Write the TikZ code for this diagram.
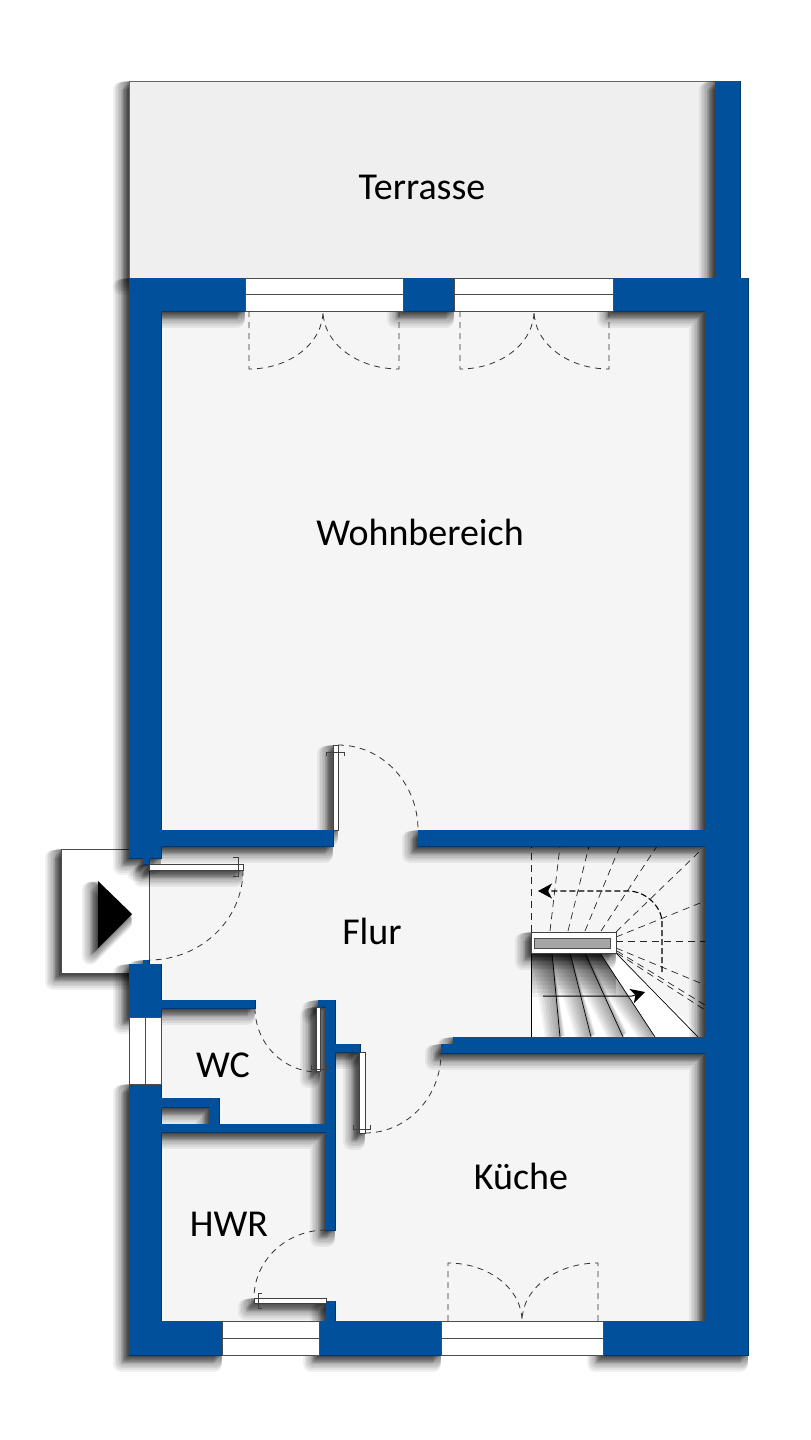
\documentclass[tikz,border=0pt]{standalone}
\usepackage{fontspec}
\setmainfont{Carlito}
\usetikzlibrary{arrows.meta}
\definecolor{wallblue}{RGB}{0,80,155}
\definecolor{walledge}{RGB}{0,52,105}
\definecolor{floorgray}{RGB}{245,245,245}
\definecolor{terracegray}{RGB}{239,239,239}
\tikzset{
	shadowlayer/.style={draw=black,fill=black,opacity=.06,line join=round},
	room/.style={font=\fontsize{38}{42}\selectfont,text=black,inner sep=0pt},
	pane/.style={fill=white,draw=black!70,line width=.7pt},
	leafbar/.style={fill=white,draw=black!75,line width=.7pt},
	hinge/.style={draw=black!75,line width=.7pt},
	swing/.style={draw=black!80,line width=.8pt,dash pattern=on 6pt off 5pt},
	tread/.style={draw=black,line width=.7pt},
	fanline/.style={draw=black!85,line width=.7pt,dash pattern=on 7pt off 5pt},
}
\newcommand{\dropshadow}[1]{\foreach \h in {.8,1.6,2.4,3.2,4,4.8,5.6,6.4,7.2,8}{\path[shadowlayer,line width={2*\h pt},shift={(-\h,1.1*\h)}] #1;}}
\newcommand{\wallrects}{(715,81) rectangle (740,278)
	(129,278) rectangle (245,311) (403,278) rectangle (454,311) (613,278) rectangle (748,311)
	(705,278) rectangle (748,1355)
	(129,278) rectangle (161,858) (143,858) rectangle (149,864)
	(161,830) rectangle (333,846) (418,830) rectangle (705,846)
	(143,960) rectangle (149,964) (129,964) rectangle (161,1017) (161,1000) rectangle (255,1008)
	(129,1084) rectangle (161,1355)
	(161,1098) rectangle (219,1107) (210,1098) rectangle (219,1132) (161,1124) rectangle (326,1132)
	(326,1000) rectangle (335,1230) (318,1000) rectangle (335,1007) (335,1044) rectangle (360,1052)
	(326,1301) rectangle (335,1321)
	(453,1037) rectangle (705,1053) (441,1044) rectangle (453,1053)
	(129,1321) rectangle (222,1355) (319,1321) rectangle (441,1355) (603,1321) rectangle (748,1355)}
\begin{document}
\begin{tikzpicture}[x=1pt,y=-1pt,>={Stealth[length=14pt,width=15pt,inset=4pt]},line join=miter]
	\useasboundingbox (0,0) rectangle (811,1440);
	\fill[white] (0,0) rectangle (811,1440);
	% outdoor and floor areas
	\dropshadow{(129,81) rectangle (715,278)}
	\filldraw[fill=terracegray,draw=black!60,line width=.6pt] (129,81) rectangle (715,278);
	\fill[floorgray] (161,311) rectangle (705,1321);
	\fill[floorgray] (149,846) rectangle (161,964);
	% entry box
	\dropshadow{(61,849) rectangle (149,973)}
	\filldraw[fill=white,draw=black!70,line width=.7pt] (61,849) rectangle (149,973);
	\dropshadow{(98,881) -- (132,914) -- (98,948) -- cycle}
	\fill[black] (98,881) -- (132,914) -- (98,948) -- cycle;
	% stairs, lower flight
	\fill[white] (531,953) -- (616,953) -- (703,1037) -- (531,1037) -- cycle;
	\begin{scope}
		\clip (531,953) -- (600,953) -- (655,1037) -- (531,1037) -- cycle;
		\foreach \w in {4,8,...,44}{\fill[black,opacity=.055] (531,953) rectangle (616,953+\w);}
		\foreach \a/\b in {552/560,570/591,585/623,600/655}{
			\foreach \w in {2,5,...,20}{\draw[black,opacity=.06,line width=\w pt] (\a-\w/2,953) -- (\b-\w/4,1037);}
		}
	\end{scope}
	\foreach \a/\b in {531/531,552/560,570/591,585/623,600/655,616/698}{\draw[tread] (\a,953) -- (\b,1037);}
	% stairs, upper flight
	\foreach \a/\c/\b/\d in {531/932/531/846,550/931/560/846,568/931/589/846,585/931/620/846,601/931/657/846,
		616/932/700/851,616/937/705/901,616/941/705/941,616/948/705/985,617/951/705/1005,617/953/705/1010}{
		\draw[fanline] (\a,\c) -- (\b,\d);
	}
	\dropshadow{(531,932) rectangle (616,953)}
	\filldraw[fill=white,draw=black!75,line width=.7pt] (531,932) rectangle (616,953);
	\filldraw[fill=black!35,draw=black!70,line width=.7pt] (534,938) rectangle (610,948);
	\draw[->,line width=1.1pt,dash pattern=on 6pt off 3pt] (662,972) -- (662,920) .. controls (660,905) and (645,891) .. (628,891) -- (538,891);
	\draw[->,line width=1pt] (543,996) -- (632,996) -- (645,992);
	% door leaves
	\dropshadow{(333,745) rectangle (338,830) (149,864) rectangle (243,870) (316,1007) rectangle (320,1071)
		(359,1052) rectangle (365,1133) (254,1298) rectangle (326,1303)}
	% walls
	\dropshadow{\wallrects}
	\draw[walledge,line width=1pt] \wallrects;
	\fill[wallblue] \wallrects;
	% windows
	\foreach \x/\X in {245/403,454/613}{
		\filldraw[pane] (\x,278) rectangle (\X,311);
		\draw[pane] (\x,294) -- (\X,294);
	}
	\foreach \x/\X in {222/319,441/603}{
		\filldraw[pane] (\x,1321) rectangle (\X,1355);
		\draw[pane] (\x,1338) -- (\X,1338);
	}
	\filldraw[pane] (129,1017) rectangle (161,1084);
	\draw[pane] (145,1017) -- (145,1084);
	% door leaves and hinges
	\filldraw[leafbar] (333,745) rectangle (338,830);
	\draw[hinge] (326,756) -- (326,752) -- (344,752) -- (344,756);
	\filldraw[leafbar] (149,864) rectangle (243,870);
	\draw[hinge] (233,857) -- (238,857) -- (238,876) -- (233,876);
	\filldraw[leafbar] (316,1007) rectangle (320,1071);
	\draw[hinge] (311,1065) -- (311,1069) -- (326,1069) -- (326,1065);
	\filldraw[leafbar] (359,1052) rectangle (365,1133);
	\draw[hinge] (353,1125) -- (353,1129) -- (370,1129) -- (370,1125);
	\filldraw[leafbar] (254,1298) rectangle (326,1303);
	\draw[hinge] (262,1293) -- (258,1293) -- (258,1308) -- (262,1308);
	% swing arcs
	\draw[swing] (249,311) -- (249,369) arc[start angle=90,end angle=0,x radius=74,y radius=58];
	\draw[swing] (399,311) -- (399,369) arc[start angle=90,end angle=180,x radius=76,y radius=58];
	\draw[swing] (460,311) -- (460,369) arc[start angle=90,end angle=0,x radius=74,y radius=58];
	\draw[swing] (609,311) -- (609,369) arc[start angle=90,end angle=180,x radius=75,y radius=58];
	\draw[swing] (338,745) arc[start angle=-90,end angle=0,x radius=80,y radius=85];
	\draw[swing] (243,870) arc[start angle=0,end angle=90,x radius=94,y radius=90];
	\draw[swing] (255,1008) arc[start angle=180,end angle=90,x radius=63,y radius=64];
	\draw[swing] (365,1133) arc[start angle=90,end angle=0,x radius=76,y radius=80];
	\draw[swing] (326,1230) arc[start angle=-90,end angle=-180,x radius=72,y radius=68];
	\draw[swing] (448,1321) -- (448,1263) arc[start angle=-90,end angle=0,x radius=74,y radius=58];
	\draw[swing] (598,1321) -- (598,1263) arc[start angle=-90,end angle=-180,x radius=76,y radius=58];
	% room names
	\node[room] (terrasse) at (422,187) {Terrasse};
	\node[room] (wohnbereich) at (420,532) {Wohnbereich};
	\node[room] (flur) at (372,931) {Flur};
	\node[room] (wc) at (223,1065) {WC};
	\node[room] (hwr) at (229,1224) {HWR};
	\node[room] (kueche) at (521,1176) {Küche};
\end{tikzpicture}
\end{document}
